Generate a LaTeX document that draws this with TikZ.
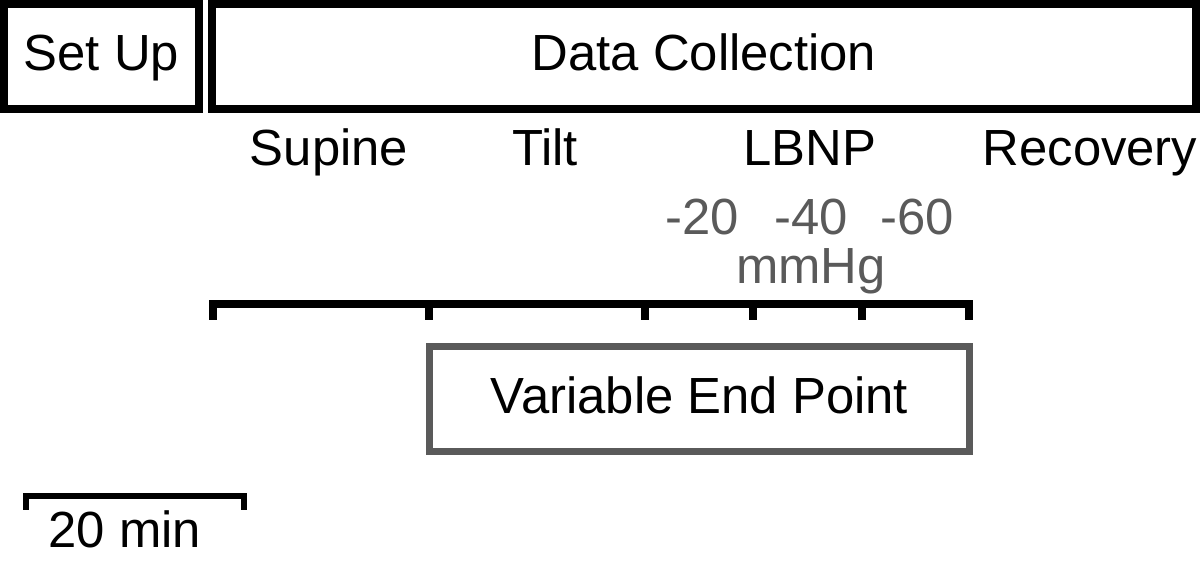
\documentclass[tikz,border=0pt]{standalone}
\usepackage{fontspec}
\setmainfont{Liberation Sans}
\usetikzlibrary{positioning}
\definecolor{lbnpgray}{HTML}{5A5A5A}
\tikzset{
  phasebox/.style = {draw, line width=2.3pt, minimum height=1.05cm, inner sep=0pt,
                     text height=0.37cm, text depth=0.08cm},
  endbox/.style   = {phasebox, draw=lbnpgray, line width=2pt, minimum height=1.04cm},
  stagetext/.style = {anchor=base, inner sep=0pt},
  pressure/.style  = {stagetext, text=lbnpgray},
  timeline/.style  = {line width=2.1pt, line join=miter},
}
\begin{document}
\begin{tikzpicture}[x=0.01cm, y=-0.01cm, font=\fontsize{14.45}{17}\selectfont]
  \useasboundingbox (0,0) rectangle (1200,565);
  % protocol blocks
  \node[phasebox, minimum width=1.95cm] (setup) at (101.5,56.5) {Set Up};
  \node[phasebox, minimum width=9.84cm] (collect) at (704,56.5) {Data Collection};
  % stages
  \node[stagetext] (supine)   at (329,166)  {Supine};
  \node[stagetext] (tilt)     at (545,166)  {Tilt};
  \node[stagetext] (lbnp)     at (810,166)  {LBNP};
  \node[stagetext] (recovery) at (1090,166) {Recovery};
  \node[pressure] (p20)  at (702,235) {-20};
  \node[pressure] (p40)  at (811,235) {-40};
  \node[pressure] (p60)  at (917,235) {-60};
  \node[pressure] (mmhg) at (811,284) {mmHg};
  % time axis
  \coordinate (t0) at (213,304);
  \coordinate (t1) at (429,304);
  \coordinate (t2) at (645,304);
  \coordinate (t3) at (753,304);
  \coordinate (t4) at (862,304);
  \coordinate (t5) at (969,304);
  \draw[timeline] (t0) ++(0,16) -- (t0) -- (t5) -- ++(0,16);
  \foreach \t in {t1,t2,t3,t4}
    \draw[timeline] (\t) -- ++(0,16);
  \node[endbox, minimum width=5.39cm] (endpt) at (699.5,399) {Variable End Point};
  % scale bar
  \coordinate (s0) at (26,496);
  \coordinate (s1) at (244,496);
  \draw[timeline, line width=1.9pt] (s0) ++(0,14) -- (s0) -- (s1) -- ++(0,14);
  \node[stagetext] (twenty) at (125,548) {20 min};
\end{tikzpicture}
\end{document}
